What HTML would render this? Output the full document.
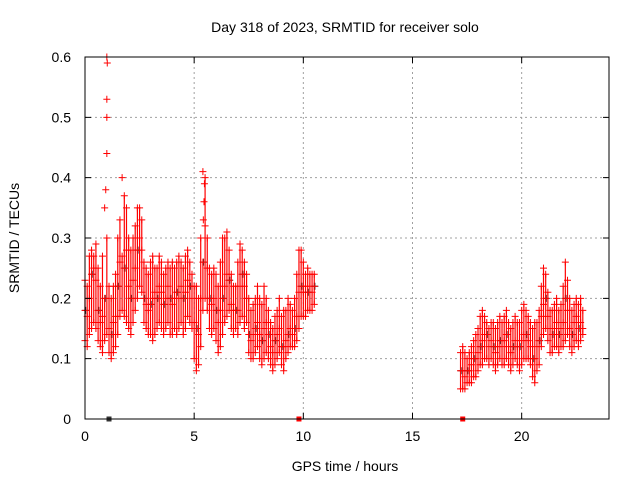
<!DOCTYPE html>
<html><head><meta charset="utf-8"><style>
body{margin:0;background:#fff;}
svg{display:block;font-family:"Liberation Sans",sans-serif;}
</style></head><body>
<svg id="c" width="640" height="480">
<text x="345" y="32" font-size="14" text-anchor="middle">Day 318 of 2023, SRMTID for receiver solo</text>
<text x="345" y="471" font-size="14" text-anchor="middle">GPS time / hours</text>
<text transform="translate(19,238) rotate(-90)" font-size="14" text-anchor="middle">SRMTID / TECUs</text>
<g id="grid"></g><g id="marks"></g><g id="axes"></g>
</svg>
<script>
const xTicks=[0,5,10,15,20];
const yTicks=[0,0.1,0.2,0.3,0.4,0.5,0.6];
const yTickLabels=["0","0.1","0.2","0.3","0.4","0.5","0.6"];
const seg1Start=0.0;
const seg1Lo=[.13,.12,.14,.15,.16,.15,.13,.12,.11,.13, .14,.11,.10,.11,.12,.14,.17,.18,.17,.16, .15,.14,.16,.18,.2,.22,.21,.16,.15,.14, .14,.13,.14,.15,.16,.15,.14,.15,.16,.14, .14,.15,.14,.15,.16,.14,.15,.17,.16,.15, .1,.08,.09,.12,.18,.2,.18,.15,.14,.15, .13,.11,.12,.14,.16,.17,.18,.15,.14,.15, .14,.16,.17,.15,.16,.11,.1,.1,.11,.12, .1,.09,.1,.11,.1,.09,.08,.09,.1,.11, .09,.08,.1,.11,.12,.12,.12,.13,.15,.17, .17,.17,.18,.18,.18,.19];
const seg1Mid=[.18,.17,.2,.24,.25,.23,.18,.16,.17,.2, .3,.15,.14,.16,.17,.22,.26,.27,.25,.28, .22,.2,.23,.25,.28,.3,.28,.2,.19,.18, .19,.2,.21,.2,.22,.21,.19,.2,.22,.2, .19,.2,.21,.2,.22,.2,.21,.23,.22,.2, .16,.15,.14,.2,.26,.32,.25,.2,.19,.2, .18,.16,.18,.2,.22,.24,.23,.19,.18,.18, .18,.22,.24,.22,.2,.14,.13,.14,.15,.16, .14,.13,.15,.16,.14,.12,.11,.13,.14,.15, .12,.12,.13,.14,.15,.14,.15,.17,.21,.22, .21,.22,.21,.22,.21,.22];
const seg1Hi=[.23,.22,.27,.28,.27,.29,.25,.22,.27,.35, .6,.22,.2,.22,.24,.3,.33,.4,.37,.35, .3,.28,.3,.32,.35,.35,.33,.26,.25,.24, .26,.27,.25,.25,.27,.26,.24,.25,.26,.25, .26,.25,.26,.27,.26,.25,.27,.28,.26,.24, .22,.22,.2,.3,.41,.4,.3,.25,.24,.25, .24,.22,.26,.3,.3,.31,.28,.24,.22,.22, .26,.29,.28,.26,.24,.2,.18,.19,.2,.22, .2,.19,.22,.2,.18,.16,.15,.17,.18,.2, .17,.18,.18,.2,.19,.18,.2,.24,.28,.28, .26,.24,.25,.24,.24,.24];
const spikeTimes=[0.95,1.0,1.0,1.0,1.02,5.42,5.45,5.47];
const spikeValues=[0.38,0.44,0.5,0.53,0.59,0.33,0.36,0.39];
const seg2Start=17.2;
const seg2Lo=[.05,.05,.05,.06,.06,.06,.07,.07,.08,.09, .09,.1,.1,.09,.1,.09,.08,.09,.1,.09, .09,.1,.09,.08,.09,.1,.09,.08,.09,.1, .1,.1,.09,.07,.06,.08,.09,.12,.14,.15, .13,.11,.11,.12,.12,.11,.12,.12,.13,.14, .12,.11,.12,.13,.12,.13,.14];
const seg2Mid=[.08,.08,.07,.08,.08,.09,.1,.1,.11,.12, .13,.14,.14,.12,.13,.12,.11,.12,.13,.12, .13,.14,.12,.11,.12,.13,.12,.12,.13,.14, .14,.13,.12,.1,.1,.12,.13,.17,.19,.2, .17,.15,.14,.15,.16,.14,.15,.16,.2,.18, .15,.14,.16,.17,.15,.16,.15];
const seg2Hi=[.11,.12,.11,.1,.11,.12,.13,.14,.15,.17, .18,.17,.16,.15,.16,.16,.15,.16,.17,.16, .17,.18,.16,.15,.16,.17,.16,.16,.18,.19, .18,.17,.16,.15,.16,.16,.18,.22,.25,.24, .21,.18,.18,.19,.2,.18,.19,.22,.26,.23, .2,.18,.19,.2,.19,.2,.18];
const zeroMarks=[1.1,9.8,17.3];
const step=0.1;

const L=85,R=609,T=57,B=419,XMAX=24,YMAX=0.6;
const xs=v=>L+(R-L)*v/XMAX;
const ys=v=>B-(B-T)*v/YMAX;
const NS="http://www.w3.org/2000/svg";
function mk(tag,attrs,parent){const e=document.createElementNS(NS,tag);for(const k in attrs)e.setAttribute(k,attrs[k]);parent.appendChild(e);return e;}
const grid=document.getElementById('grid'),marks=document.getElementById('marks'),axes=document.getElementById('axes');

xTicks.forEach(t=>{
  if(t>0){const g=mk('line',{x1:xs(t),x2:xs(t),y1:T,y2:B,stroke:'#a0a0a0','stroke-dasharray':'2,3'},grid);
  
  }
  const tk=mk('path',{d:`M${xs(t)},${B}v-6M${xs(t)},${T}v6`,stroke:'#000'},axes);
  
  
  const lb=mk('text',{x:xs(t),y:B+22,'font-size':14,'text-anchor':'middle'},axes);lb.textContent=t;
  
  
});
yTicks.forEach((t,i)=>{
  if(t>0&&t<YMAX){const g=mk('line',{x1:L,x2:R,y1:ys(t),y2:ys(t),stroke:'#a0a0a0','stroke-dasharray':'2,3'},grid);
  
  }
  const tk=mk('path',{d:`M${L},${ys(t)}h6M${R},${ys(t)}h-6`,stroke:'#000'},axes);
  
  
  const lb=mk('text',{x:L-14,y:ys(t)+5,'font-size':14,'text-anchor':'end'},axes);lb.textContent=yTickLabels[i];
  
  
});
const fr=mk('rect',{x:L,y:T,width:R-L,height:B-T,fill:'none',stroke:'#000'},axes);



function plus(t,v,col){
  const x=xs(t),y=ys(v);
  const p=mk('path',{d:`M${x-3.5},${y}h7M${x},${y-3.5}v7`,stroke:col,'stroke-width':1},marks);
  
  
}
function seg(start,lo,mid,hi){
  lo.forEach((v,i)=>{
    const t=start+i*step;
    const top=(hi[i]-mid[i]>0.12)?mid[i]:hi[i];
    const ln=mk('line',{x1:xs(t),x2:xs(t),y1:ys(lo[i]),y2:ys(top),stroke:'#f00','stroke-width':1.2},marks);
    
    
    if(i%3===0)plus(t+0.03,mid[i],'#333');
    plus(t,lo[i],'#f00');plus(t,mid[i],'#f00');plus(t,hi[i],'#f00');
  });
}
seg(seg1Start,seg1Lo,seg1Mid,seg1Hi);
seg(seg2Start,seg2Lo,seg2Mid,seg2Hi);
spikeTimes.forEach((t,i)=>plus(t,spikeValues[i],'#f00'));
zeroMarks.forEach((t,i)=>{
  const r=mk('rect',{x:xs(t)-2.5,y:B-2.5,width:5,height:5,fill:i===0?'#333':'#f00'},marks);
  
  
});
</script>
</body></html>
